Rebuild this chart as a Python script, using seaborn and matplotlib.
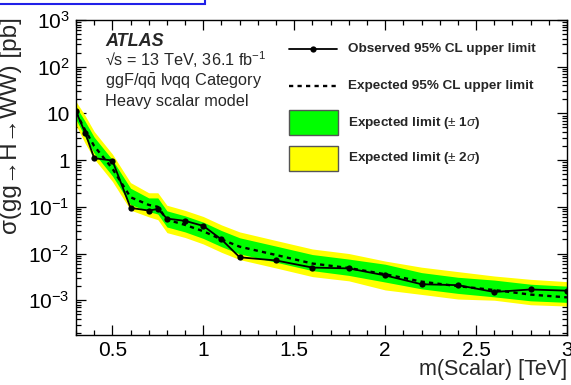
import matplotlib
matplotlib.use("Agg")
import matplotlib.pyplot as plt
import numpy as np
import pandas as pd
import seaborn as sns
from matplotlib.patches import Rectangle
from matplotlib.lines import Line2D
from matplotlib.ticker import FixedLocator, FixedFormatter, LogLocator, NullFormatter, MultipleLocator

# Heavy scalar mass points [TeV]
mass = [0.3, 0.35, 0.4, 0.5, 0.6, 0.7, 0.75, 0.8, 0.9, 1.0, 1.1, 1.2, 1.4,
        1.6, 1.8, 2.0, 2.2, 2.4, 2.6, 2.8, 3.0]

# Observed 95% CL upper limit [pb]
observed = [11.0, 3.9, 1.1, 0.98, 0.095, 0.083, 0.090, 0.056, 0.050, 0.039,
            0.020, 0.0083, 0.0071, 0.0050, 0.0048, 0.0034, 0.0022, 0.0021,
            0.0015, 0.0017, 0.0016]

# Expected limit and its +-1 sigma / +-2 sigma bands [pb]
expected = [10.5, 4.4, 2.0, 0.66, 0.16, 0.11, 0.10, 0.053, 0.041, 0.030,
            0.020, 0.014, 0.0093, 0.0061, 0.0049, 0.0036, 0.0025, 0.0020,
            0.00165, 0.00132, 0.00115]
exp_up1 = [14.0, 6.8, 3.1, 1.02, 0.25, 0.155, 0.155, 0.082, 0.064, 0.047,
           0.031, 0.0217, 0.0144, 0.0095, 0.0076, 0.0059, 0.0039, 0.0031,
           0.0027, 0.0022, 0.0020]
exp_dn1 = [7.4, 3.1, 1.4, 0.46, 0.112, 0.079, 0.070, 0.037, 0.029, 0.021,
           0.014, 0.0098, 0.0065, 0.0043, 0.0034, 0.00245, 0.00175, 0.0014,
           0.00118, 0.00097, 0.00090]
exp_up2 = [18.0, 9.0, 4.1, 1.35, 0.33, 0.20, 0.20, 0.108, 0.084, 0.062,
           0.041, 0.029, 0.019, 0.0125, 0.010, 0.0069, 0.0051, 0.0041,
           0.0033, 0.0028, 0.0025]
exp_dn2 = [5.6, 2.3, 1.06, 0.35, 0.085, 0.061, 0.053, 0.028, 0.022, 0.016,
           0.0106, 0.0074, 0.0049, 0.0032, 0.0026, 0.00166, 0.00133, 0.00106,
           0.00100, 0.00080, 0.00075]

y_ticks = [1e-3, 1e-2, 1e-1, 1, 10, 1e2, 1e3]
y_tick_labels = [r"$10^{-3}$", r"$10^{-2}$", r"$10^{-1}$", "1", "10",
                 r"$10^{2}$", r"$10^{3}$"]
x_ticks = [0.5, 1.0, 1.5, 2.0, 2.5, 3.0]
x_tick_labels = ["0.5", "1", "1.5", "2", "2.5", "3"]

legend_labels = ["Observed 95% CL upper limit", "Expected 95% CL upper limit",
                 r"Expected limit ($\pm$ 1$\sigma$)", r"Expected limit ($\pm$ 2$\sigma$)"]

sns.set_theme(style="ticks")
plt.rcParams["font.family"] = ["Liberation Sans", "DejaVu Sans"]
plt.rcParams["mathtext.fontset"] = "custom"
plt.rcParams["mathtext.rm"] = "Liberation Sans"
plt.rcParams["mathtext.it"] = "Liberation Sans:italic"
plt.rcParams["mathtext.bf"] = "Liberation Sans:bold"
plt.rcParams["mathtext.sf"] = "Liberation Sans"

W, H = 571, 385
fig = plt.figure(figsize=(W / 100, H / 100), dpi=100)
fig.patch.set_facecolor("white")


def px(x, y):
    return (x / W, 1 - y / H)


ax = fig.add_axes([76 / W, 50 / H, 491 / W, 315 / H])
ax.set_facecolor("white")

df = pd.DataFrame({"mass": mass, "observed": observed, "expected": expected})

ax.fill_between(mass, exp_dn2, exp_up2, color="#ffff00", lw=0, zorder=1)
ax.fill_between(mass, exp_dn1, exp_up1, color="#00ff00", lw=0, zorder=2)
sns.lineplot(data=df, x="mass", y="expected", ax=ax, color="black", lw=1.7,
             linestyle=(0, (1.8, 1.8)), legend=False, zorder=3)
sns.lineplot(data=df, x="mass", y="observed", ax=ax, color="black", lw=1.3,
             marker="o", markersize=4.5, markeredgewidth=0, legend=False, zorder=4)

ax.set_yscale("log")
ax.set_xlim(0.3, 3.0)
ax.set_ylim(1.8e-4, 1e3)
ax.set_xlabel("")
ax.set_ylabel("")

ax.xaxis.set_major_locator(FixedLocator(x_ticks))
ax.xaxis.set_major_formatter(FixedFormatter(x_tick_labels))
ax.xaxis.set_minor_locator(MultipleLocator(0.1))
ax.yaxis.set_major_locator(FixedLocator(y_ticks))
ax.yaxis.set_major_formatter(FixedFormatter(y_tick_labels))
ax.yaxis.set_minor_locator(LogLocator(base=10, subs=np.arange(2, 10), numticks=20))
ax.yaxis.set_minor_formatter(NullFormatter())

ax.tick_params(which="both", direction="in", top=True, right=True,
               color="black", width=0.9, labelsize=15, labelcolor="black")
ax.tick_params(which="major", length=7.5, pad=4.5)
ax.tick_params(which="minor", length=3.8)
for s in ax.spines.values():
    s.set_color("black")
    s.set_linewidth(1.0)

# axis titles
fig.text(*px(567, 375), "m(Scalar) [TeV]", ha="right", va="baseline", fontsize=15.5)
fig.text(*px(11.5, 17), "σ(gg→H→WW) [pb]", rotation=90, ha="center", va="top",
         fontsize=17.5)

# analysis labels
fig.text(*px(105, 46.5), "ATLAS", fontsize=13, fontweight="bold", fontstyle="italic",
         va="baseline")
fig.text(*px(105, 66.5), r"√s = 13 TeV, 36.1 fb$^{-1}$", fontsize=11.7, va="baseline")
fig.text(*px(105, 86), r"ggF/q$\bar{\mathrm{q}}$ lνqq Category", fontsize=11.7,
         va="baseline")
fig.text(*px(105, 106), "Heavy scalar model", fontsize=11.7, va="baseline")

# legend
rows_y = [49.3, 86, 122.7, 158.3]
x0, x1 = 289, 337
fig.add_artist(Line2D([x0 / W, x1 / W], [1 - rows_y[0] / H] * 2, color="black", lw=1.3,
                      transform=fig.transFigure))
fig.add_artist(Line2D([(x0 + x1) / 2 / W], [1 - rows_y[0] / H], color="black",
                      marker="o", markersize=4.5, markeredgewidth=0,
                      transform=fig.transFigure))
fig.add_artist(Line2D([x0 / W, x1 / W], [1 - rows_y[1] / H] * 2, color="black", lw=1.7,
                      linestyle=(0, (1.8, 1.8)), transform=fig.transFigure))
for yc, col in [(rows_y[2], "#00ff00"), (rows_y[3], "#ffff00")]:
    fig.add_artist(Rectangle(px(x0, yc + 12.5), (x1 - x0 + 1) / W, 25 / H,
                             facecolor=col, edgecolor="#555555", lw=1.0,
                             transform=fig.transFigure))
for yc, lab in zip(rows_y, legend_labels):
    fig.text(*px(348, yc), lab, fontsize=9.7, fontweight="bold", va="center")

# frame fragment in the top-left corner
fig.add_artist(Rectangle(px(-5, 4), 210 / W, 20 / H, facecolor="white",
                         edgecolor="#2020e8", lw=1.5, transform=fig.transFigure))

fig.savefig("out.png", dpi=100)
